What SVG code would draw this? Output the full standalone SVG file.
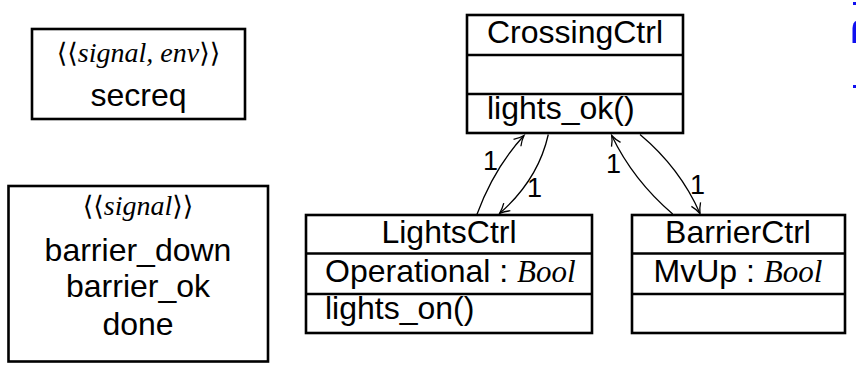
<svg xmlns="http://www.w3.org/2000/svg" width="856" height="367" viewBox="0 0 856 367">
  <style>
    .box { fill: #fff; stroke: #000; stroke-width: 2.6; }
    .div { stroke: #000; stroke-width: 2.6; }
    .sans { font-family: "Liberation Sans", "DejaVu Sans", sans-serif; font-size: 32px; fill: #000; }
    .it { font-family: "Liberation Serif", "DejaVu Serif", serif; font-style: italic; font-size: 31px; }
    .st { font-family: "Liberation Serif", "DejaVu Serif", serif; font-style: italic; font-size: 28px; }
    .br { font-family: "DejaVu Serif", "Liberation Serif", serif; font-style: normal; font-size: 27px; }
    .mid { text-anchor: middle; }
    .edge { fill: none; stroke: #000; stroke-width: 1.3; }
    .mult { font-family: "Liberation Sans", "DejaVu Sans", sans-serif; font-size: 27px; fill: #000; }
  </style>
  <defs>
    <marker id="arrow" markerUnits="userSpaceOnUse" markerWidth="14" markerHeight="14" refX="12" refY="7" orient="auto">
      <path d="M2,2 Q7,5.5 12,7 Q7,8.5 2,12" fill="none" stroke="#000" stroke-width="1.3"/>
    </marker>
  </defs>

  <!-- signal classes -->
  <g id="secreq">
    <rect class="box" x="32" y="29" width="213" height="90"/>
    <text class="mid" x="138.5" y="62"><tspan class="br">⟨⟨</tspan><tspan class="st">signal, env</tspan><tspan class="br">⟩⟩</tspan></text>
    <text class="sans mid" x="138.5" y="106">secreq</text>
  </g>

  <g id="signals">
    <rect class="box" x="8.5" y="186" width="259.5" height="175.5"/>
    <text class="mid" x="138" y="215"><tspan class="br">⟨⟨</tspan><tspan class="st">signal</tspan><tspan class="br">⟩⟩</tspan></text>
    <text class="sans mid" x="138" y="261">barrier_down</text>
    <text class="sans mid" x="138" y="297">barrier_ok</text>
    <text class="sans mid" x="138" y="335">done</text>
  </g>

  <!-- controller classes -->
  <g id="CrossingCtrl">
    <rect class="box" x="467" y="15" width="216" height="118"/>
    <line class="div" x1="467" y1="55" x2="683" y2="55"/>
    <line class="div" x1="467" y1="94" x2="683" y2="94"/>
    <text class="sans mid" x="575" y="43">CrossingCtrl</text>
    <text class="sans" x="487" y="119">lights_ok()</text>
  </g>

  <g id="LightsCtrl">
    <rect class="box" x="306" y="215" width="286" height="118"/>
    <line class="div" x1="306" y1="253.5" x2="592" y2="253.5"/>
    <line class="div" x1="306" y1="294" x2="592" y2="294"/>
    <text class="sans mid" x="449" y="243">LightsCtrl</text>
    <text class="sans" x="325" y="282">Operational : <tspan class="it">Bool</tspan></text>
    <text class="sans" x="325" y="319">lights_on()</text>
  </g>

  <g id="BarrierCtrl">
    <rect class="box" x="632" y="215" width="213" height="118"/>
    <line class="div" x1="632" y1="253.5" x2="845" y2="253.5"/>
    <line class="div" x1="632" y1="294" x2="845" y2="294"/>
    <text class="sans mid" x="738" y="243">BarrierCtrl</text>
    <text class="sans mid" x="738" y="282">MvUp : <tspan class="it">Bool</tspan></text>
  </g>

  <!-- associations -->
  <g id="connectors">
    <path class="edge" d="M476.7,215 Q494,168 524,135.5" marker-end="url(#arrow)"/>
    <path class="edge" d="M548.3,134.5 Q538,180 499.5,213.5" marker-end="url(#arrow)"/>
    <path class="edge" d="M672.7,214 Q633,180 611.7,135.5" marker-end="url(#arrow)"/>
    <path class="edge" d="M640,134.5 Q680,168 700,213.5" marker-end="url(#arrow)"/>
    <text class="mult" x="483" y="170">1</text>
    <text class="mult" x="527" y="197">1</text>
    <text class="mult" x="606" y="173">1</text>
    <text class="mult" x="690" y="194">1</text>
  </g>

  <!-- clipped blue glyph at the right margin -->
  <g id="margin-mark" fill="#1010f0">
    <rect x="853" y="2" width="3" height="3"/>
    <path d="M856,21 L856,43 L852.5,43 L852.5,28 Q853,22 856,21 Z"/>
    <rect x="853" y="85" width="3" height="3"/>
  </g>
</svg>
